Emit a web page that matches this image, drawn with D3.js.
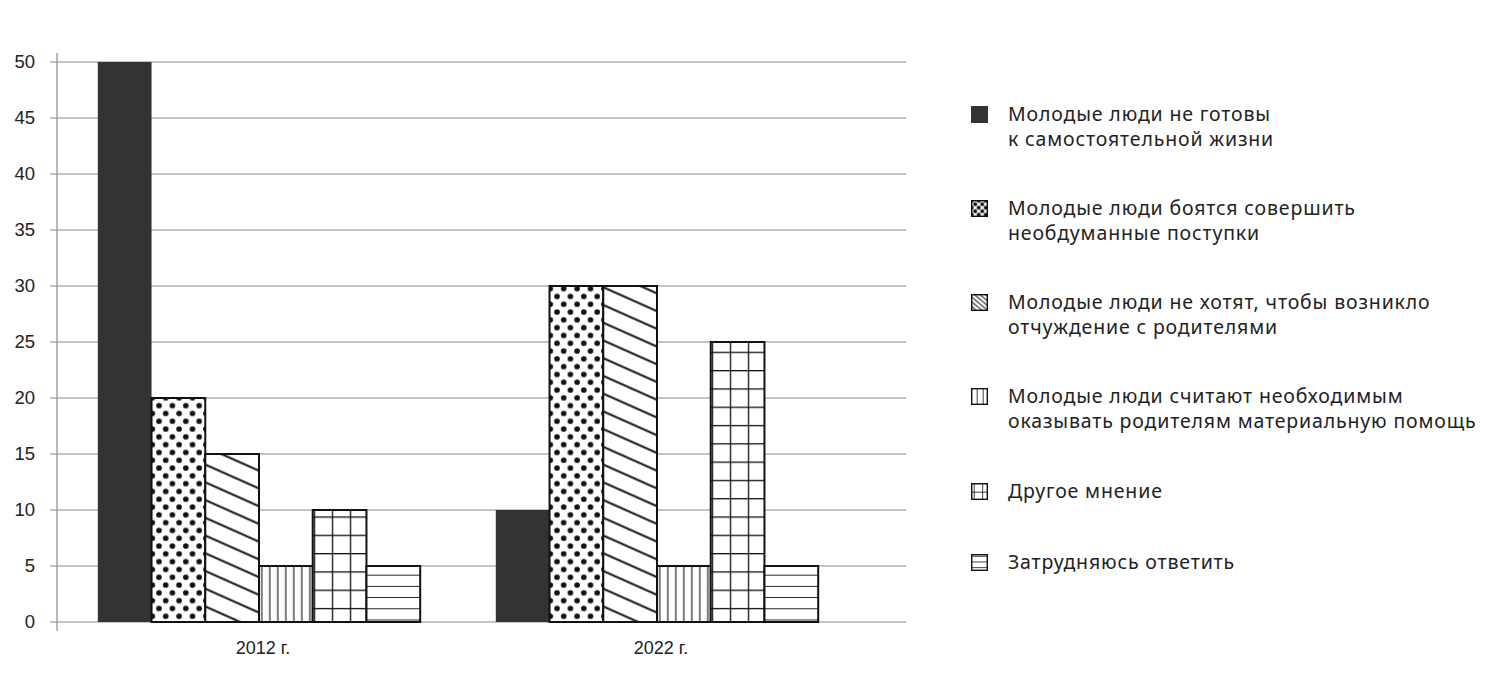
<!DOCTYPE html>
<html>
<head>
<meta charset="utf-8">
<script src="https://cdn.jsdelivr.net/npm/d3@7"></script>
<style>
  html, body { margin: 0; padding: 0; background: #fff; }
  svg { display: block; }
</style>
</head>
<body>
<svg id="chart" width="1500" height="679"></svg>
<script>
// ---- data ----
const categories = ["2012 г.", "2022 г."];
const seriesNames = [
  "Молодые люди не готовы\nк самостоятельной жизни",
  "Молодые люди боятся совершить\nнеобдуманные  поступки",
  "Молодые люди не хотят, чтобы возникло\nотчуждение с родителями",
  "Молодые люди считают необходимым\nоказывать родителям материальную помощь",
  "Другое мнение",
  "Затрудняюсь ответить"
];
const values2012 = [50, 20, 15, 5, 10, 5];
const values2022 = [10, 30, 30, 5, 25, 5];
const yTicks = [0, 5, 10, 15, 20, 25, 30, 35, 40, 45, 50];
const patternIds = ["solid", "dots", "diag", "vert", "grid", "horiz"];

const valuesByCategory = [values2012, values2022];

// ---- layout ----
const svg = d3.select("#chart");
const axisX = 57, gridRight = 906;
const y = d3.scaleLinear().domain([0, 50]).range([622, 62]);
const x0 = d3.scaleBand().domain(categories).range([60, 856]).paddingInner(0.19).paddingOuter(0.095);
const x1 = d3.scaleBand().domain(d3.range(seriesNames.length)).range([0, x0.bandwidth()]);

// ---- patterns ----
const defs = svg.append("defs");
function mk(id, w, h, build, transform) {
  const p = defs.append("pattern").attr("id", id).attr("patternUnits", "userSpaceOnUse")
    .attr("width", w).attr("height", h);
  if (transform) p.attr("patternTransform", transform);
  p.append("rect").attr("width", w).attr("height", h).attr("fill", "#fff");
  build(p, w, h);
}
// bar patterns
mk("dots", 13.4, 15.6, (p, w, h) => {
  [[0,0],[w,0],[0,h],[w,h],[w/2,h/2]].forEach(([cx,cy]) =>
    p.append("circle").attr("cx", cx).attr("cy", cy).attr("r", 2.8).attr("fill", "#111"));
}, "translate(155,0)");
mk("diag", 20, 16.2, (p, w, h) => {
  p.append("line").attr("x1", 0).attr("x2", w).attr("y1", h/2).attr("y2", h/2)
    .attr("stroke", "#111").attr("stroke-width", 2);
}, "rotate(24)");
mk("vert", 8, 10, (p, w, h) => {
  p.append("line").attr("x1", 4).attr("x2", 4).attr("y1", 0).attr("y2", h)
    .attr("stroke", "#111").attr("stroke-width", 1.1);
});
mk("grid", 18, 18.3, (p, w, h) => {
  p.append("line").attr("x1", 0).attr("x2", w).attr("y1", 0).attr("y2", 0).attr("stroke", "#111").attr("stroke-width", 2.6);
  p.append("line").attr("x1", 0).attr("x2", 0).attr("y1", 0).attr("y2", h).attr("stroke", "#111").attr("stroke-width", 2.6);
}, "translate(0,4)");
mk("horiz", 10, 11.2, (p, w, h) => {
  p.append("line").attr("x1", 0).attr("x2", w).attr("y1", 0).attr("y2", 0).attr("stroke", "#111").attr("stroke-width", 1.8);
}, "translate(0,3.5)");

// legend patterns
mk("ldots", 7, 7, (p, w, h) => {
  [[0,0],[w,0],[0,h],[w,h],[w/2,h/2]].forEach(([cx,cy]) =>
    p.append("circle").attr("cx", cx).attr("cy", cy).attr("r", 2).attr("fill", "#111"));
});
mk("ldiag", 6, 3.6, (p, w, h) => {
  p.append("line").attr("x1", 0).attr("x2", w).attr("y1", h/2).attr("y2", h/2)
    .attr("stroke", "#111").attr("stroke-width", 1);
}, "rotate(40)");
mk("lvert", 6, 6, (p, w, h) => {
  p.append("line").attr("x1", 0).attr("x2", 0).attr("y1", 0).attr("y2", h).attr("stroke", "#111").attr("stroke-width", 1.6);
}, "translate(971,0)");
mk("lgrid", 8.5, 8.5, (p, w, h) => {
  p.append("line").attr("x1", 0).attr("x2", w).attr("y1", 0).attr("y2", 0).attr("stroke", "#111").attr("stroke-width", 1.6);
  p.append("line").attr("x1", 0).attr("x2", 0).attr("y1", 0).attr("y2", h).attr("stroke", "#111").attr("stroke-width", 1.6);
}, "translate(971,484)");
mk("lhoriz", 6, 5.7, (p, w, h) => {
  p.append("line").attr("x1", 0).attr("x2", w).attr("y1", 0).attr("y2", 0).attr("stroke", "#111").attr("stroke-width", 1.6);
}, "translate(0,554)");

// ---- grid lines & axis ----
const gridG = svg.append("g");
gridG.selectAll("line.grid").data(yTicks).join("line")
  .attr("x1", 50).attr("x2", gridRight)
  .attr("y1", d => y(d)).attr("y2", d => y(d))
  .attr("stroke", "#8a8a8a").attr("stroke-width", 1);
gridG.append("line").attr("x1", axisX).attr("x2", axisX).attr("y1", 53).attr("y2", 631)
  .attr("stroke", "#8a8a8a").attr("stroke-width", 1.2);

const yAxis = d3.axisLeft(y).tickValues(yTicks).tickSize(0).tickPadding(0);
const yG = svg.append("g").attr("transform", "translate(35,0)").call(yAxis);
yG.select(".domain").remove();
yG.selectAll("text").attr("font-family", "'Liberation Sans', Arial, sans-serif")
  .attr("font-size", 18.5).attr("fill", "#222");

// ---- bars ----
const groups = svg.append("g").selectAll("g").data(categories).join("g")
  .attr("transform", d => `translate(${x0(d)},0)`);
groups.selectAll("rect").data((d, i) => valuesByCategory[i].map((v, j) => ({ v, j })))
  .join("rect")
  .attr("x", d => x1(d.j))
  .attr("width", x1.bandwidth())
  .attr("y", d => y(d.v))
  .attr("height", d => y(0) - y(d.v))
  .attr("fill", d => d.j === 0 ? "#333" : `url(#${patternIds[d.j]})`)
  .attr("stroke", d => d.j === 0 ? "none" : "#111")
  .attr("stroke-width", 2);

// ---- category labels ----
const xAxis = d3.axisBottom(x0).tickSize(0).tickPadding(0);
const xG = svg.append("g").attr("transform", "translate(4,638)").call(xAxis);
xG.select(".domain").remove();
xG.selectAll("text").attr("font-family", "'Liberation Sans', Arial, sans-serif")
  .attr("font-size", 18).attr("fill", "#222").attr("dy", "0.9em");

// ---- legend ----
const legendY = [106, 200, 294, 388, 483, 554];
const legendPat = ["solid", "ldots", "ldiag", "lvert", "lgrid", "lhoriz"];
const leg = svg.append("g").selectAll("g").data(seriesNames).join("g")
  .attr("transform", (d, i) => `translate(971,${legendY[i]})`);
leg.append("rect")
  .attr("fill", (d, i) => i === 0 ? "#333" : `url(#${legendPat[i]})`)
  .attr("stroke", (d, i) => i === 0 ? "none" : "#111").attr("stroke-width", 1.4)
  .attr("transform", (d, i) => i === 0 ? null : "translate(0.7,0.7)")
  .attr("width", (d, i) => i === 0 ? 17 : 15.6).attr("height", (d, i) => i === 0 ? 17 : 15.6);
leg.append("text")
  .attr("x", 37).attr("y", 15)
  .attr("font-family", "'Noto Sans', sans-serif").attr("font-size", 19.5)
  .attr("letter-spacing", 0.85).attr("fill", "#222")
  .selectAll("tspan").data(d => d.split("\n")).join("tspan")
  .attr("x", 37).attr("dy", (d, i) => i === 0 ? 0 : 25).text(d => d);
</script>
</body>
</html>
